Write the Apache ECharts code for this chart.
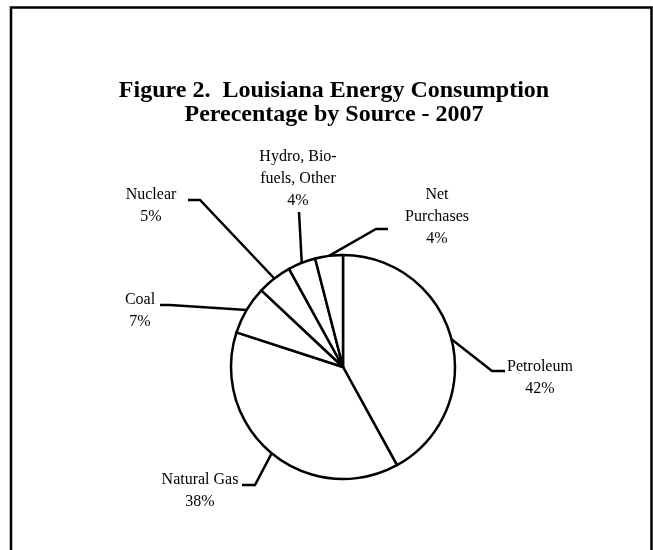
<!DOCTYPE html>
<html>
<head>
<meta charset="utf-8">
<script src="https://cdn.jsdelivr.net/npm/echarts@6/dist/echarts.min.js"></script>
<style>
html,body{margin:0;padding:0;background:#fff;}
#chart{width:653px;height:550px;}
</style>
</head>
<body>
<div id="chart"></div>
<script>
// ---- data ----
const categories = ['Petroleum', 'Natural Gas', 'Coal', 'Nuclear', 'Hydro, Bio-\nfuels, Other', 'Net\nPurchases'];
const values = [42, 38, 7, 5, 4, 4];
const titleLines = ['Figure 2.  Louisiana Energy Consumption', 'Perecentage by Source - 2007'];

// ---- layout (label placement, not data) ----
const pieCenter = [343, 367];
const pieRadius = 112;
const labelAnchor = [[540, 356], [200, 469], [140, 289], [151, 184], [298, 146], [437, 184]];
const leaderTurn = [[492, 371, 505], [255, 485, 242], [170, 305, 160], [200, 200, 188], [299, 212, 299], [376, 229, 388]];

const total = values.reduce((a, b) => a + b, 0);
const midAngles = [];
let acc = 0;
values.forEach(v => { midAngles.push((acc + v / 2) / total * 2 * Math.PI); acc += v; });

const FONT = '"Liberation Serif", "Times New Roman", serif';

const chart = echarts.init(document.getElementById('chart'), null, {renderer: 'canvas'});
chart.setOption({
  backgroundColor: '#fff',
  animation: false,
  title: {
    text: titleLines.join('\n'),
    left: 334,
    top: 79,
    textAlign: 'center',
    padding: 0,
    textStyle: {fontFamily: FONT, fontWeight: 'bold', fontSize: 24, lineHeight: 24, color: '#000'}
  },
  graphic: [{
    type: 'rect', silent: true,
    shape: {x: 11, y: 7.5, width: 640.5, height: 580},
    style: {fill: 'none', stroke: '#000', lineWidth: 2.5}
  }],
  series: [{
    type: 'pie',
    center: pieCenter,
    radius: pieRadius,
    startAngle: 90,
    clockwise: true,
    avoidLabelOverlap: false,
    silent: true,
    emphasis: {disabled: true},
    itemStyle: {color: '#fff', borderColor: '#000', borderWidth: 2.5},
    label: {
      show: true,
      position: 'outside',
      color: '#000',
      fontFamily: FONT,
      fontSize: 16,
      lineHeight: 22,
      formatter: p => {
        const lines = p.name.split('\n').concat([p.value + '%']);
        return lines.map(l => '{c|' + l + '}').join('\n');
      },
      rich: {c: {align: 'center', fontFamily: FONT, fontSize: 16, lineHeight: 22, color: '#000'}}
    },
    labelLine: {show: true, lineStyle: {color: '#000', width: 2.5}},
    labelLayout: function (params) {
      const i = params.dataIndex;
      const a = midAngles[i];
      const ex = pieCenter[0] + pieRadius * Math.sin(a);
      const ey = pieCenter[1] - pieRadius * Math.cos(a);
      const t = leaderTurn[i];
      return {
        x: labelAnchor[i][0],
        y: labelAnchor[i][1],
        align: 'center',
        verticalAlign: 'top',
        labelLinePoints: [[ex, ey], [t[0], t[1]], [t[2], t[1]]]
      };
    },
    data: categories.map((c, i) => ({name: c, value: values[i]}))
  }]
});
</script>
</body>
</html>
